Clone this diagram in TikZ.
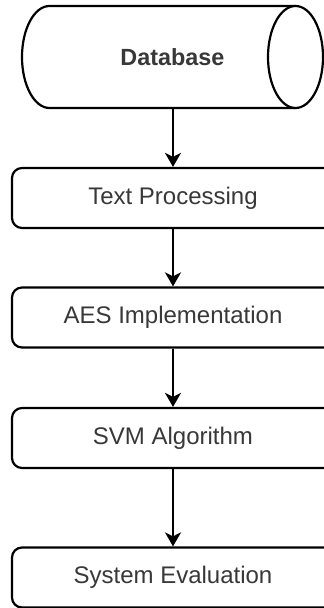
\documentclass[tikz,border=0pt]{standalone}
\usepackage{fontspec}
\setmainfont{Liberation Sans}
\usetikzlibrary{arrows.meta}
\begin{document}
\begin{tikzpicture}[x=1pt,y=1pt,
  outline/.style={draw=black, line width=2.2pt},
  procbox/.style={outline, rounded corners=10pt, minimum width=322pt, minimum height=60pt, inner sep=0pt,
    text=black!78, font=\fontsize{24}{28}\selectfont},
  flow/.style={draw=black, line width=2pt, -{Stealth[length=14pt,width=16pt,inset=4pt]}}]
\useasboundingbox (0,0) rectangle (324,608);
\clip (0,0) rectangle (324,608);
\fill[white] (0,0) rectangle (324,608);
% cylinder
\draw[outline, fill=white] (295.5,602) -- (49.5,602)
  arc[start angle=90, end angle=270, x radius=27.5, y radius=51] -- (295.5,500);
\draw[outline, fill=white] (295.5,551) ellipse [x radius=27.5, y radius=51];
\node[minimum width=301pt, minimum height=102pt, inner sep=0pt, text=black!78,
  font=\fontsize{23.4}{27}\selectfont\bfseries] (db) at (172.5,551) {Database};
\node[procbox] (tp) at (173,410) {Text Processing};
\node[procbox] (aes) at (173,290.5) {AES Implementation};
\node[procbox] (svm) at (173,170) {SVM Algorithm};
\node[procbox] (se) at (173,30.5) {System Evaluation};
\draw[flow] (db.south -| tp.north) -- (tp.north);
\draw[flow] (tp) -- (aes);
\draw[flow] (aes) -- (svm);
\draw[flow] (svm) -- (se);
\end{tikzpicture}
\end{document}
